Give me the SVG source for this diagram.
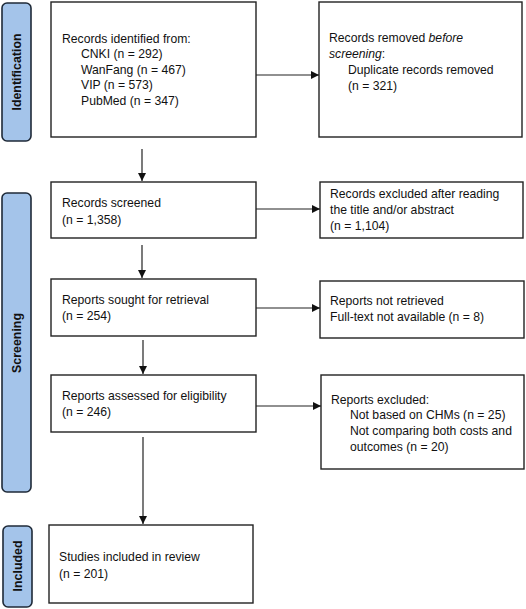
<svg xmlns="http://www.w3.org/2000/svg" width="526" height="609" viewBox="0 0 526 609">
<style>
.box{fill:#fff;stroke:#222;stroke-width:1.4}
.side{fill:#a4c4ea;stroke:#1f2a38;stroke-width:1.6}
.t{font-family:"Liberation Sans",Arial,sans-serif;font-size:12.2px;fill:#111}
.s{font-family:"Liberation Sans",Arial,sans-serif;font-size:12.4px;font-weight:bold;fill:#111}
.c{stroke:#222;stroke-width:1.2;fill:none;marker-end:url(#ah)}
</style>
<defs>
<marker id="ah" viewBox="0 0 10 10" refX="10" refY="5" markerWidth="10" markerHeight="8" markerUnits="userSpaceOnUse" orient="auto">
<path d="M0,0 L10,5 L0,10 z" fill="#111"/>
</marker>
</defs>
<g id="side-identification">
<rect class="side" x="2" y="3" width="29" height="138" rx="5"/>
<text class="s" transform="translate(21,72) rotate(-90)" text-anchor="middle">Identification</text>
</g>
<g id="side-screening">
<rect class="side" x="2" y="193" width="29" height="299" rx="5"/>
<text class="s" transform="translate(21,343) rotate(-90)" text-anchor="middle">Screening</text>
</g>
<g id="side-included">
<rect class="side" x="3" y="526" width="29" height="81" rx="5"/>
<text class="s" transform="translate(22,566) rotate(-90)" text-anchor="middle">Included</text>
</g>
<g id="identified">
<rect class="box" x="51" y="2" width="205" height="135"/>
<text class="t" x="62" y="43">Records identified from:</text>
<text class="t" x="81" y="58">CNKI (n = 292)</text>
<text class="t" x="81" y="74">WanFang (n = 467)</text>
<text class="t" x="81" y="89">VIP (n = 573)</text>
<text class="t" x="81" y="105">PubMed (n = 347)</text>
</g>
<g id="removed">
<rect class="box" x="319" y="2" width="203" height="135"/>
<text class="t" x="329" y="42">Records removed <tspan font-style="italic">before</tspan></text>
<text class="t" x="329" y="58"><tspan font-style="italic">screening</tspan>:</text>
<text class="t" x="348" y="74">Duplicate records removed</text>
<text class="t" x="348" y="90">(n = 321)</text>
</g>
<g id="screened">
<rect class="box" x="51" y="182" width="205" height="56"/>
<text class="t" x="62" y="207">Records screened</text>
<text class="t" x="62" y="224">(n = 1,358)</text>
</g>
<g id="excluded-title">
<rect class="box" x="320" y="182" width="203" height="56"/>
<text class="t" x="330" y="198">Records excluded after reading</text>
<text class="t" x="330" y="214">the title and/or abstract</text>
<text class="t" x="330" y="230">(n = 1,104)</text>
</g>
<g id="sought">
<rect class="box" x="51" y="279" width="205" height="57"/>
<text class="t" x="62" y="304">Reports sought for retrieval</text>
<text class="t" x="62" y="320">(n = 254)</text>
</g>
<g id="not-retrieved">
<rect class="box" x="320" y="281" width="204" height="57"/>
<text class="t" x="330" y="305">Reports not retrieved</text>
<text class="t" x="330" y="321">Full-text not available (n = 8)</text>
</g>
<g id="assessed">
<rect class="box" x="51" y="375" width="205" height="57"/>
<text class="t" x="62" y="400">Reports assessed for eligibility</text>
<text class="t" x="62" y="416">(n = 246)</text>
</g>
<g id="reports-excluded">
<rect class="box" x="321" y="375" width="203" height="94"/>
<text class="t" x="331" y="404">Reports excluded:</text>
<text class="t" x="350" y="419">Not based on CHMs (n = 25)</text>
<text class="t" x="350" y="435">Not comparing both costs and</text>
<text class="t" x="350" y="451">outcomes (n = 20)</text>
</g>
<g id="included">
<rect class="box" x="49" y="525" width="204" height="78"/>
<text class="t" x="59" y="561">Studies included in review</text>
<text class="t" x="59" y="578">(n = 201)</text>
</g>
<g id="connectors">
<line class="c" x1="256" y1="75" x2="319" y2="75"/>
<line class="c" x1="142" y1="149" x2="142" y2="181"/>
<line class="c" x1="256" y1="209" x2="320" y2="209"/>
<line class="c" x1="142" y1="245" x2="142" y2="278"/>
<line class="c" x1="256" y1="308" x2="320" y2="308"/>
<line class="c" x1="143" y1="340" x2="143" y2="374"/>
<line class="c" x1="256" y1="406" x2="321" y2="406"/>
<line class="c" x1="143" y1="437" x2="143" y2="524"/>
</g>
</svg>
